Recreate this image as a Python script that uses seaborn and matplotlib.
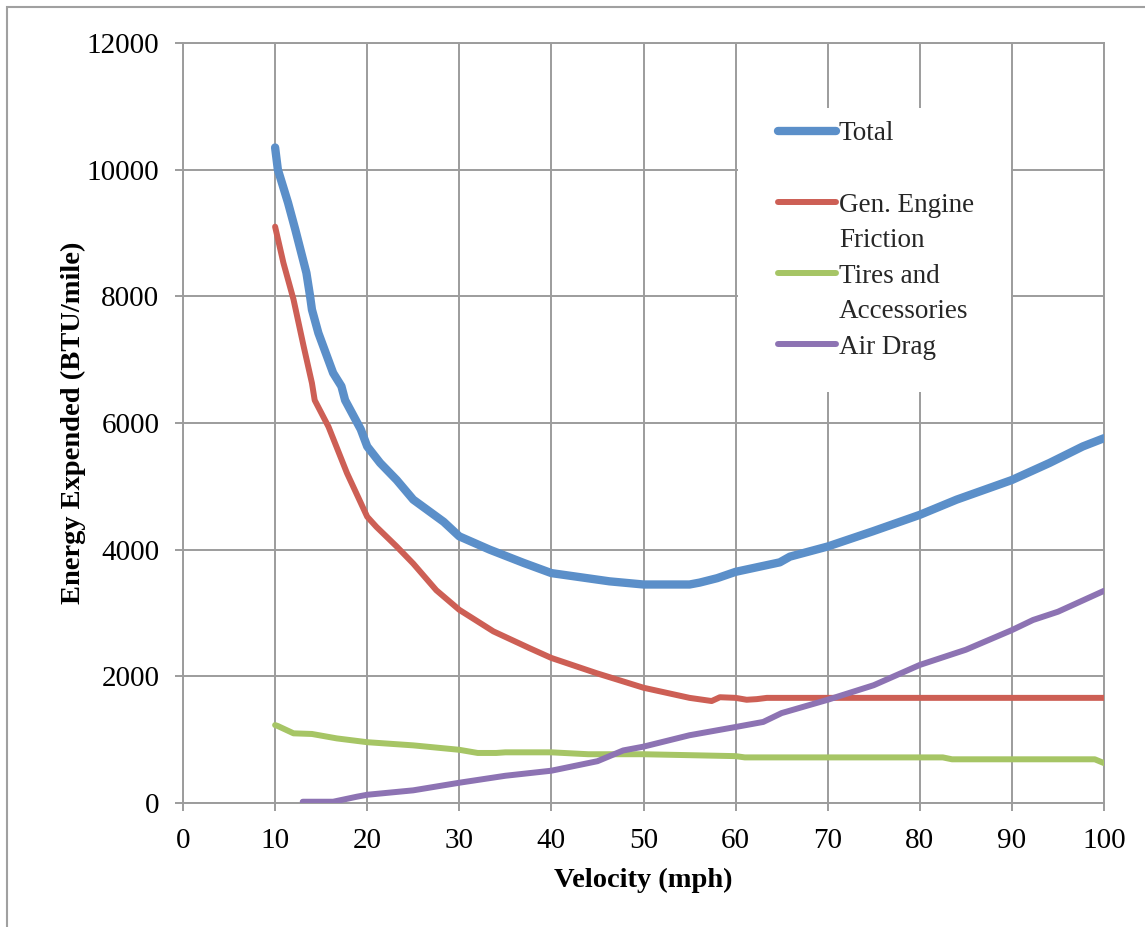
import numpy as np
import pandas as pd
import matplotlib
matplotlib.use("Agg")
import matplotlib.pyplot as plt
from matplotlib.lines import Line2D
from matplotlib.patches import Rectangle
import seaborn as sns

# values (mph, BTU/mile)
vel_total = [10, 10.3, 11.4, 12.2, 13.4, 13.8, 14.0, 14.7, 16.3, 17.2, 17.6, 19.3, 20, 21.4, 23.2,
             25, 28.3, 30, 33.3, 37, 40, 46.3, 50, 55, 56.1, 58, 60, 64.8, 65.9, 70, 74.9, 80,
             84, 90, 94.1, 97.7, 100]
total = [10350, 10000, 9480, 9050, 8370, 8000, 7790, 7420, 6790, 6580, 6360, 5900, 5630, 5370, 5100,
         4790, 4440, 4210, 4000, 3790, 3630, 3500, 3450, 3450, 3480, 3550, 3650, 3800, 3890, 4050, 4290, 4550,
         4790, 5100, 5370, 5630, 5760]

vel_engine = [10, 10.9, 12.0, 13.1, 14.0, 14.3, 15.8, 17.8, 20, 21, 23.2, 25, 27.5, 30, 33.7, 37.7,
              40, 44.9, 50, 52.5, 55, 57.4, 58.3, 60, 61.2, 62.3, 63.4, 100]
engine = [9100, 8530, 7950, 7210, 6630, 6360, 5940, 5210, 4520, 4360, 4050, 3780, 3360, 3050, 2710, 2440,
          2290, 2050, 1820, 1740, 1660, 1610, 1670, 1660, 1630, 1640, 1660, 1660]

vel_tires = [10, 10.3, 12, 14, 16.7, 20, 25, 30, 32, 34, 35, 40, 44, 50, 60, 61, 82.5, 83.5, 99, 100]
tires = [1230, 1215, 1100, 1090, 1020, 960, 910, 840, 790, 790, 800, 800, 770, 770, 740, 720, 720, 690,
         690, 630]

vel_air = [13, 16.3, 18.9, 20, 25, 30, 35, 40, 45, 47.8, 50, 55, 60, 63, 65, 70, 75, 80, 85, 90, 92.3,
           95, 100]
air = [20, 20, 100, 130, 200, 320, 430, 510, 660, 830, 890, 1070, 1200, 1280, 1420, 1630, 1860, 2180,
       2420, 2730, 2890, 3020, 3350]

series_names = ["Total", "Gen. Engine Friction", "Tires and Accessories", "Air Drag"]
legend_rows = ["Total", "", "Gen. Engine", "Friction", "Tires and", "Accessories", "Air Drag"]
colors = ["#5B8FC9", "#CD5F55", "#A6C565", "#8D73B3"]
widths = [6.0, 4.3, 4.3, 4.3]

x_ticks = list(range(0, 101, 10))
y_ticks = list(range(0, 12001, 2000))

sns.set_theme(style="whitegrid")
grid_gray = "#9C9C9C"
plt.rcParams["font.family"] = ["Liberation Serif", "DejaVu Serif"]
plt.rcParams["lines.solid_capstyle"] = "round"

fig = plt.figure(figsize=(11.45, 9.27), dpi=100)
fig.patch.set_facecolor("white")
ax = fig.add_axes([183 / 1145, 1 - 803 / 927, (1104 - 183) / 1145, (803 - 43) / 927])
ax.set_facecolor("white")

data = [(vel_total, total), (vel_engine, engine), (vel_tires, tires), (vel_air, air)]
for (xs, ys), name, c, w in zip(data, series_names, colors, widths):
    df = pd.DataFrame({"Velocity": xs, "Energy": ys})
    sns.lineplot(data=df, x="Velocity", y="Energy", ax=ax, color=c, lw=w,
                 zorder=3, sort=False, label=name)

ax.set_xlim(0, 100)
ax.set_ylim(0, 12000)
ax.set_xticks(x_ticks)
ax.set_yticks(y_ticks)
ax.set_axisbelow(True)
ax.grid(True, color=grid_gray, lw=1.4)
for sp in ax.spines.values():
    sp.set_color(grid_gray)
    sp.set_linewidth(1.4)
ax.tick_params(axis="both", which="major", direction="out", length=6, width=1.4,
               color=grid_gray, labelsize=21, labelcolor="black")
ax.tick_params(axis="x", pad=12, bottom=True)
ax.tick_params(axis="y", pad=11, left=True)

ax.set_xlabel("Velocity (mph)", fontsize=20.5, fontweight="bold", color="black")
ax.set_ylabel("Energy Expended (BTU/mile)", fontsize=20.5, fontweight="bold", color="black")
ax.xaxis.set_label_coords(0.5, -(880 - 803) / 760)
ax.xaxis.label.set_va("center")
ax.yaxis.set_label_coords(-(183 - 73) / 921, 0.5)
ax.yaxis.label.set_va("center")

# white box behind the legend, hides the grid there
ax.add_patch(Rectangle((0.6026, 0.5408), 0.2964, 0.3737, transform=ax.transAxes,
                       facecolor="white", edgecolor="none", zorder=1))

handles = []
for row in legend_rows:
    if row in ("Total", "Gen. Engine", "Tires and", "Air Drag"):
        i = ["Total", "Gen. Engine", "Tires and", "Air Drag"].index(row)
        handles.append(Line2D([], [], color=colors[i], lw=widths[i]))
    else:
        handles.append(Line2D([], [], color="none"))
ax.legend(handles=handles, labels=legend_rows, loc="upper left",
          bbox_to_anchor=((778 - 183) / 921, (803 - 121.5) / 760),
          frameon=False, fontsize=19.5, handlelength=2.15, handletextpad=0.1,
          labelspacing=0.39, borderpad=0, borderaxespad=0)

# grey frame around the chart, open at the right and bottom
fig.patches.append(Rectangle((7 / 1145, -0.05), 1.2, 1 - 7 / 927 + 0.05, transform=fig.transFigure,
                             fill=False, edgecolor="#A0A0A0", lw=1.5))

fig.savefig("out.png", dpi=100, facecolor="white")
